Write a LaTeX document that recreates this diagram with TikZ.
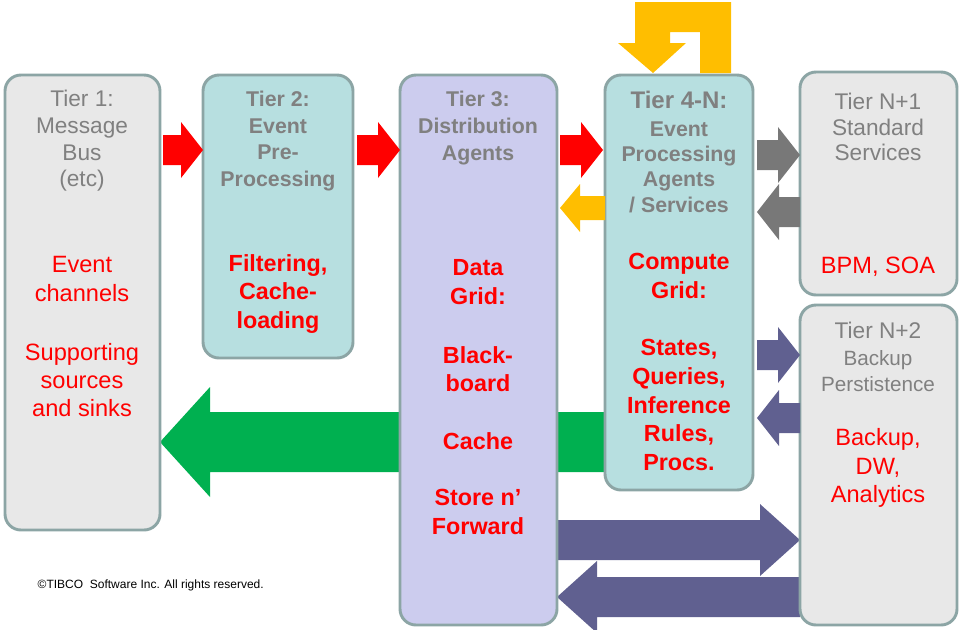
\documentclass[tikz,border=0pt]{standalone}
\usepackage{fontspec}
\setmainfont{Liberation Sans}
\begin{document}
\begin{tikzpicture}[x=0.75pt,y=-0.75pt,
  tier/.style={draw=boxline,line width=2.2pt,rounded corners=12pt},
  head/.style={text=headgray,align=center,font=\fontsize{17}{20}\selectfont},
  bhead/.style={text=headgray,align=center,font=\bfseries\fontsize{16}{20}\selectfont},
  body/.style={text=red,align=center,font=\fontsize{17.7}{21.3}\selectfont},
  bold/.style={body,font=\bfseries\fontsize{17.5}{21.3}\selectfont}]
\definecolor{boxline}{RGB}{140,165,165}
\definecolor{grayfill}{RGB}{232,232,232}
\definecolor{tealfill}{RGB}{183,223,224}
\definecolor{lavfill}{RGB}{204,204,238}
\definecolor{headgray}{RGB}{128,128,128}
\definecolor{orng}{RGB}{255,190,0}
\definecolor{navy}{RGB}{96,96,144}
\definecolor{grn}{RGB}{0,176,80}
\definecolor{darkgray}{RGB}{120,120,120}
% block arrow: colour, tail x, tip x, centre y, shaft half, head half, head length
\newcommand\blockarrow[7]{%
  \pgfmathsetmacro\hb{#3-sign(#3-#2)*#7}%
  \fill[#1] (#2,#4-#5) -- (\hb,#4-#5) -- (\hb,#4-#6) -- (#3,#4) -- (\hb,#4+#6)
    -- (\hb,#4+#5) -- (#2,#4+#5) -- cycle;}
\useasboundingbox (0,0) rectangle (960,629);
% big arrows behind boxes
\blockarrow{grn}{605}{160}{442}{30}{55}{50}
\blockarrow{navy}{557}{800}{540}{20}{36}{40}
\blockarrow{navy}{800}{557}{597}{20}{36}{40}
% boxes
\draw[tier,fill=grayfill] (5,75) rectangle (160,530);
\draw[tier,fill=tealfill] (203,75) rectangle (353,358);
\draw[tier,fill=lavfill] (400,75) rectangle (557,625);
\draw[tier,fill=tealfill] (605,75) rectangle (753,490);
\draw[tier,fill=grayfill] (800,72) rectangle (957,295);
\draw[tier,fill=grayfill] (800,305) rectangle (957,625);
% small arrows
\blockarrow{red}{163}{203}{150}{15}{28}{22}
\blockarrow{red}{357}{400}{150}{15}{28}{22}
\blockarrow{red}{560}{603}{150}{15}{28}{22}
\blockarrow{orng}{605}{560}{208}{12}{24}{20}
\blockarrow{darkgray}{757}{800}{155}{15}{28}{22}
\blockarrow{darkgray}{800}{757}{212}{15}{28}{22}
\blockarrow{navy}{757}{800}{355}{15}{28}{22}
\blockarrow{navy}{800}{757}{418}{15}{28}{22}
% loop arrow on top of tier 4
\fill[orng] (700,73) -- (731,73) -- (731,2) -- (635,2) -- (635,43) -- (618,43)
  -- (653,73) -- (686,43) -- (670,43) -- (670,32) -- (700,32) -- cycle;
% texts
\node[head] (t1) at (82,141) {Tier 1:\\Message\\Bus\\(etc)};
\node[body] (b1) at (82,279) {Event\\channels};
\node[body] (b1b) at (82,380) {Supporting\\sources\\and sinks};
\node[bhead] (t2) at (278,141) {Tier 2:\\Event\\Pre-\\Processing};
\node[bold] (b2) at (278,294) {Filtering,\\Cache-\\loading};
\node[bhead] (t3) at (478,128) {Tier 3:\\Distribution\\Agents};
\node[bold] (b3) at (478,282) {Data\\Grid:};
\node[bold] (b3b) at (478,369) {Black-\\board};
\node[bold] (b3c) at (478,441) {Cache};
\node[bold] (b3d) at (478,512) {Store n'\\Forward};
\node[bhead] (t4a) at (679,100) {\fontsize{18}{20}\selectfont Tier 4-N:};
\node[bhead,font=\bfseries\fontsize{16}{19}\selectfont] (t4) at (679,167) {Event\\Processing\\Agents\\/ Services};
\node[bold] (b4) at (679,276) {Compute\\Grid:};
\node[bold,font=\bfseries\fontsize{17.5}{21.5}\selectfont] (b5) at (679,405) {States,\\Queries,\\Inference\\Rules,\\Procs.};
\node[head,font=\fontsize{17}{19}\selectfont] (t5) at (878,127) {Tier N+1\\Standard\\Services};
\node[head] (t6) at (878,330) {Tier N+2};
\node[head,font=\fontsize{15.5}{19}\selectfont] (t7) at (878,371) {Backup\\Perstistence};
\node[body] (b6) at (878,267) {BPM, SOA};
\node[body,font=\fontsize{17.7}{21.5}\selectfont] (b7) at (878,468) {Backup,\\DW,\\Analytics};
\node[font=\fontsize{9}{10}\selectfont,anchor=west] (c) at (33,585) {\textcopyright TIBCO\ \ Software Inc. All rights reserved.};
\end{tikzpicture}
\end{document}
